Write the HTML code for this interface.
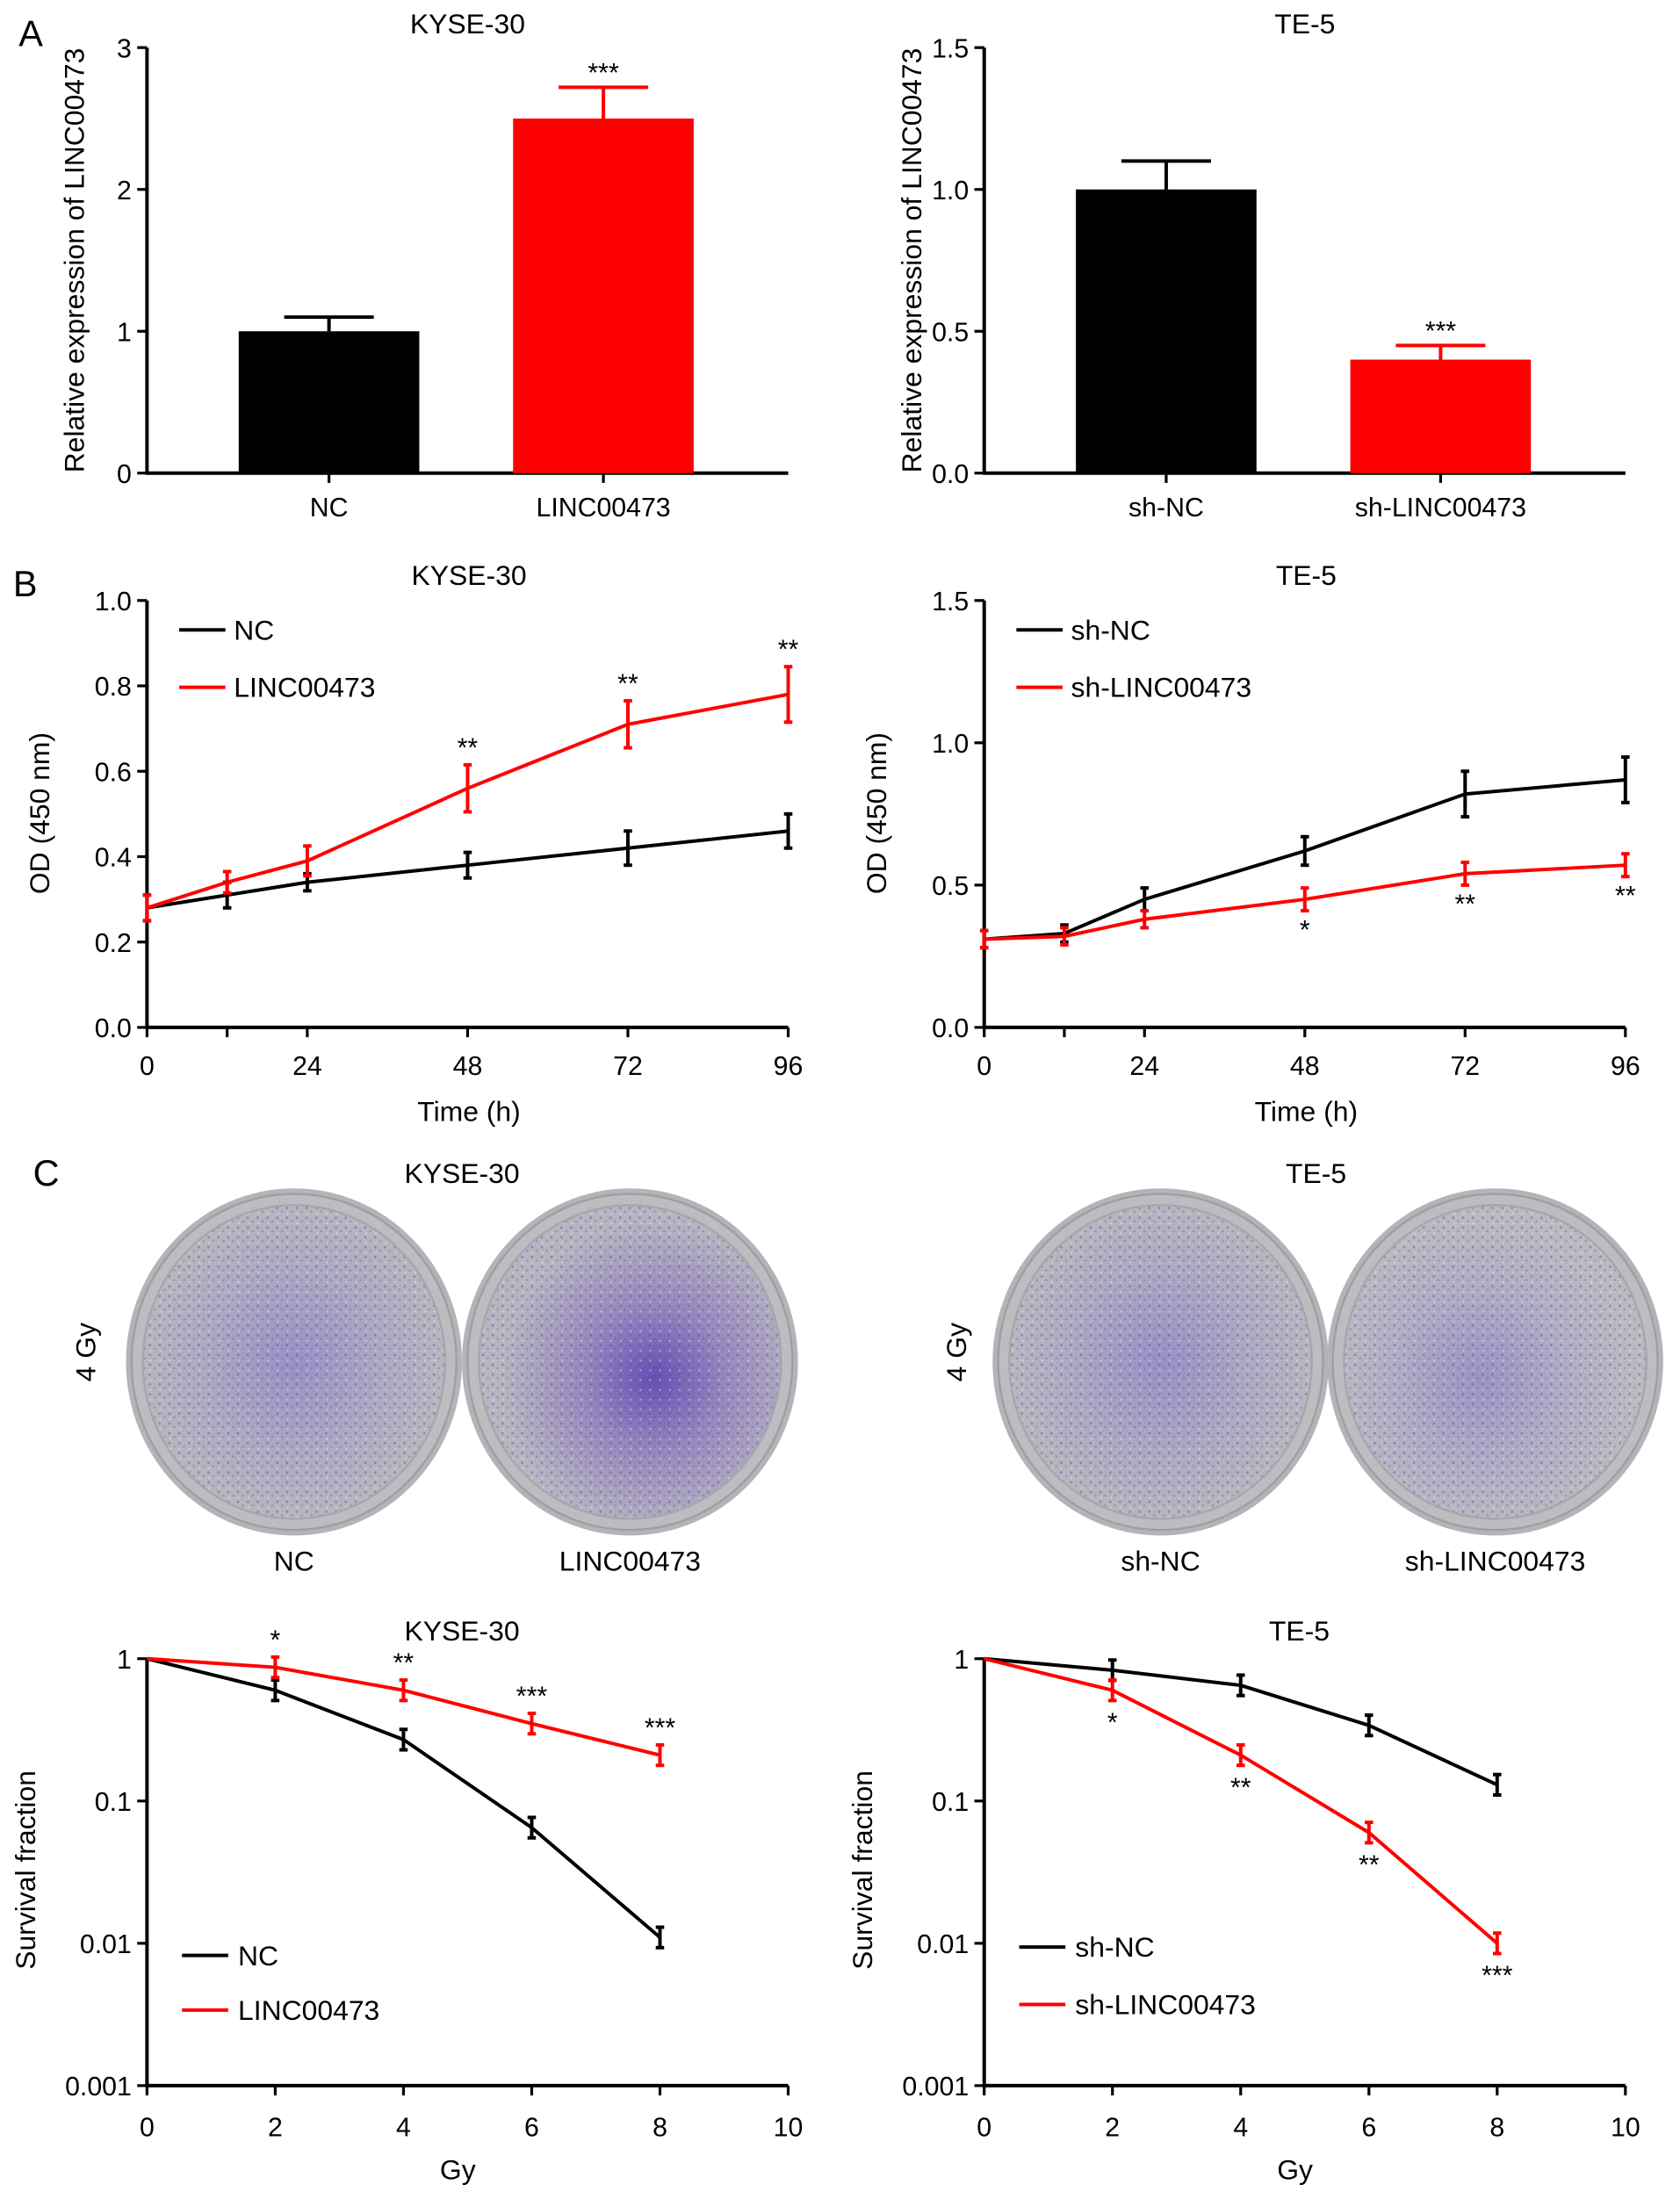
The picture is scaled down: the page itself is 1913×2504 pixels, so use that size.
<!DOCTYPE html>
<html><head><meta charset="utf-8"><style>
html,body{margin:0;padding:0;background:#fff}
svg{display:block;font-family:"Liberation Sans",Arial,sans-serif}
</style></head><body>
<svg id="fig" width="1913" height="2504" viewBox="0 0 1200 1571" preserveAspectRatio="none" xmlns="http://www.w3.org/2000/svg">
<defs>
<radialGradient id="dishA" cx="50%" cy="50%" r="50%">
<stop offset="0%" stop-color="#9890c4"/><stop offset="60%" stop-color="#adaac2"/><stop offset="100%" stop-color="#b8b7be"/></radialGradient>
<radialGradient id="dishB" cx="58%" cy="55%" r="50%">
<stop offset="0%" stop-color="#6450b4"/><stop offset="45%" stop-color="#9586bd"/><stop offset="100%" stop-color="#b7b5bf"/></radialGradient>
<radialGradient id="dishC" cx="45%" cy="55%" r="50%">
<stop offset="0%" stop-color="#9a94c4"/><stop offset="60%" stop-color="#b1afc4"/><stop offset="100%" stop-color="#bbbac0"/></radialGradient>
<pattern id="speck" width="7" height="7" patternUnits="userSpaceOnUse">
<circle cx="2" cy="2" r="0.9" fill="#5a4aa8" opacity="0.45"/><circle cx="5.5" cy="4.5" r="0.8" fill="#5a4aa8" opacity="0.35"/><circle cx="2.5" cy="6" r="0.7" fill="#eee" opacity="0.5"/></pattern>
</defs>
<g id="root"></g>
</svg>
<script>
// ---- Data: panel A ----
const barCatsL = ["NC","LINC00473"];
const barValsL = [1.0, 2.5];
const barErrL = [0.1, 0.22];
const barCatsR = ["sh-NC","sh-LINC00473"];
const barValsR = [1.0, 0.4];
const barErrR = [0.1, 0.05];
// ---- Data: panel B ----
const timeX = [0,12,24,48,72,96];
const odNC = [0.28,0.31,0.34,0.38,0.42,0.46];
const odNCerr = [0.03,0.03,0.02,0.03,0.04,0.04];
const odLINC = [0.28,0.34,0.39,0.56,0.71,0.78];
const odLINCerr = [0.03,0.025,0.035,0.055,0.055,0.065];
const odShNC = [0.31,0.33,0.45,0.62,0.82,0.87];
const odShNCerr = [0.03,0.03,0.04,0.05,0.08,0.08];
const odShLINC = [0.31,0.32,0.38,0.45,0.54,0.57];
const odShLINCerr = [0.03,0.03,0.03,0.04,0.04,0.04];
const timeTicks = [0,24,48,72,96];
// ---- Data: panel D ----
const doseX = [0,2,4,6,8];
const sfNC = [1,0.6,0.27,0.065,0.011];
const sfLINC = [1,0.87,0.6,0.35,0.21];
const sfShNC = [1,0.83,0.65,0.34,0.13];
const sfShLINC = [1,0.6,0.21,0.06,0.01];
const doseTicks = [0,2,4,6,8,10];
const logTicks = [1,0.1,0.01,0.001];
const logTickLabels = ["1","0.1","0.01","0.001"];

const NS="http://www.w3.org/2000/svg";
const root=document.getElementById('root');
const FT=19, FL=20;
function el(tag,attrs,parent,text){const e=document.createElementNS(NS,tag);for(const k in attrs)e.setAttribute(k,attrs[k]);if(text!==undefined)e.textContent=text;(parent||root).appendChild(e);return e;}
function txt(x,y,s,size,anchor,parent,rot){const t=el('text',{x:x,y:y,'font-size':size,'text-anchor':anchor||'middle',fill:'#000'},parent,s);if(rot)t.setAttribute('transform','rotate(-90 '+x+' '+y+')');return t;}

function linY(v,min,max,y0,y1){return y0-(v-min)/(max-min)*(y0-y1);}
function logY(v,y0,y1){return y0-(Math.log10(v)+3)/3*(y0-y1);}

function axesFrame(g,ax0,ay0,ax1,ay1){
  el('line',{x1:ax0,y1:ay0+1,x2:ax0,y2:ay1,stroke:'#000','stroke-width':2.5},g);
  el('line',{x1:ax0-1,y1:ay0,x2:ax1,y2:ay0,stroke:'#000','stroke-width':2.5},g);
}
function yTick(g,x,y,label){el('line',{x1:x-7,y1:y,x2:x,y2:y,stroke:'#000','stroke-width':2},g);txt(x-11,y+7,label,FT,'end',g);}
function xTick(g,x,y,label,ly){el('line',{x1:x,y1:y,x2:x,y2:y+7,stroke:'#000','stroke-width':2},g);if(label!==null)txt(x,ly,label,FT,'middle',g);}
function errBar(g,x,y1,y2,color,cap){el('line',{x1:x,y1:y1,x2:x,y2:y2,stroke:color,'stroke-width':2.5},g);el('line',{x1:x-cap,y1:y1,x2:x+cap,y2:y1,stroke:color,'stroke-width':2.5},g);el('line',{x1:x-cap,y1:y2,x2:x+cap,y2:y2,stroke:color,'stroke-width':2.5},g);}

// ---- Panel A ----
function barChart(name,ax0,title,cats,vals,errs,maxV,step,decimals,stars){
  const g=el('g',{},root);
  const ay0=338,ay1=34,ax1=ax0+458;
  const Y=v=>linY(v,0,maxV,ay0,ay1);
  txt(ax0+(ax1-ax0)/2,24,title,FL,'middle',g);
  axesFrame(g,ax0,ay0,ax1,ay1);
  for(let v=0;v<=maxV+1e-9;v+=step){yTick(g,ax0,Y(v),v.toFixed(decimals));}
  const ylab=txt(ax0-45,186,'Relative expression of LINC00473',FL,'middle',g,true);
  const centers=[130,326];
  cats.forEach((c,i)=>{
    const cx=ax0+centers[i];
    const color=i===0?'#000':'#ff0000';
    const b=el('rect',{x:cx-64.5,y:Y(vals[i]),width:129,height:ay0-Y(vals[i]),fill:color},g);
    
    el('line',{x1:cx,y1:Y(vals[i]),x2:cx,y2:Y(vals[i]+errs[i]),stroke:color,'stroke-width':2.5},g);
    el('line',{x1:cx-32,y1:Y(vals[i]+errs[i]),x2:cx+32,y2:Y(vals[i]+errs[i]),stroke:color,'stroke-width':2.5},g);
    xTick(g,cx,ay0,c,369);
    if(stars[i]){const s=txt(cx,Y(vals[i]+errs[i])-4,stars[i],FT,'middle',g);}
  });
}
barChart('bar-chart-kyse30',105,'KYSE-30',barCatsL,barValsL,barErrL,3,1,0,[null,'***']);
barChart('bar-chart-te5',703,'TE-5',barCatsR,barValsR,barErrR,1.5,0.5,1,[null,'***']);
txt(22,33,'A',26,'middle');

// ---- Panel B ----
function lineChart(name,ax0,title,maxV,series,legend,stars){
  const g=el('g',{},root);
  const ay0=734,ay1=429,ax1=ax0+458;
  const X=t=>ax0+t/96*(ax1-ax0);
  const Y=v=>linY(v,0,maxV,ay0,ay1);
  txt(ax0+230,418,title,FL,'middle',g);
  axesFrame(g,ax0,ay0,ax1,ay1);
  const step=maxV>1.2?0.5:0.2;
  for(let v=0;v<=maxV+1e-9;v+=step)yTick(g,ax0,Y(v),v.toFixed(1));
  timeTicks.forEach(t=>xTick(g,X(t),ay0,String(t),768));
  xTick(g,X(12),ay0,null);
  txt(ax0+230,801,'Time (h)',FL,'middle',g);
  txt(ax0-70,581,'OD (450 nm)',FL,'middle',g,true);
  series.forEach(s=>{
    const pl=el('polyline',{points:timeX.map((t,i)=>X(t)+','+Y(s.v[i])).join(' '),fill:'none',stroke:s.c,'stroke-width':2.5},g);
    
    timeX.forEach((t,i)=>errBar(g,X(t),Y(s.v[i]+s.e[i]),Y(s.v[i]-s.e[i]),s.c,3));
  });
  legend.forEach((l,i)=>{const ly=450+i*41;el('line',{x1:ax0+23,y1:ly,x2:ax0+56,y2:ly,stroke:l.c,'stroke-width':2.5},g);const t=txt(ax0+62,ly+7,l.n,FL,'start',g);});
  stars.forEach(s=>{const t=txt(X(s.t),s.above?Y(s.v)-6:Y(s.v)+20,s.s,FT,'middle',g);});
}
lineChart('line-chart-kyse30',105,'KYSE-30',1.0,
 [{n:'nc',v:odNC,e:odNCerr,c:'#000'},{n:'linc00473',v:odLINC,e:odLINCerr,c:'#ff0000'}],
 [{n:'NC',c:'#000'},{n:'LINC00473',c:'#ff0000'}],
 [{t:48,v:odLINC[3]+odLINCerr[3],s:'**',above:true},{t:72,v:odLINC[4]+odLINCerr[4],s:'**',above:true},{t:96,v:odLINC[5]+odLINCerr[5],s:'**',above:true}]);
lineChart('line-chart-te5',703,'TE-5',1.5,
 [{n:'sh-nc',v:odShNC,e:odShNCerr,c:'#000'},{n:'sh-linc00473',v:odShLINC,e:odShLINCerr,c:'#ff0000'}],
 [{n:'sh-NC',c:'#000'},{n:'sh-LINC00473',c:'#ff0000'}],
 [{t:48,v:odShLINC[3]-odShLINCerr[3],s:'*',above:false},{t:72,v:odShLINC[4]-odShLINCerr[4],s:'**',above:false},{t:96,v:odShLINC[5]-odShLINCerr[5],s:'**',above:false}]);
txt(18,426,'B',26,'middle');

// ---- Panel C (dishes) ----
txt(33,847,'C',26,'middle');
txt(330,845,'KYSE-30',FL,'middle');
txt(940,845,'TE-5',FL,'middle');
txt(68,966,'4 Gy',FL,'middle',null,true);
txt(690,966,'4 Gy',FL,'middle',null,true);
[[210,973,'NC','dishA'],[450,973,'LINC00473','dishB'],[829,973,'sh-NC','dishA'],[1068,973,'sh-LINC00473','dishC']].forEach(d=>{
  const g=el('g',{},root);
  el('ellipse',{cx:d[0],cy:d[1],rx:120,ry:124,fill:'#b4b4b8'},g);
  el('ellipse',{cx:d[0],cy:d[1],rx:116,ry:120,fill:'#bdbdc1',stroke:'#9e9ea4','stroke-width':1.5},g);
  el('ellipse',{cx:d[0],cy:d[1],rx:108,ry:112,fill:'url(#'+d[3]+')'},g);
  el('ellipse',{cx:d[0],cy:d[1],rx:108,ry:112,fill:'url(#speck)'},g);
  el('ellipse',{cx:d[0],cy:d[1],rx:108,ry:112,fill:'none',stroke:'#a6a6ac','stroke-width':1.5},g);
  txt(d[0],1122,d[2],FL,'middle',g);
});

// ---- Panel D ----
function logChart(name,ax0,title,series,legend,stars){
  const g=el('g',{},root);
  const ay0=1490,ay1=1185,ax1=ax0+458;
  const X=d=>ax0+d/10*(ax1-ax0);
  const Y=v=>logY(v,ay0,ay1);
  txt(ax0+225,1172,title,FL,'middle',g);
  axesFrame(g,ax0,ay0,ax1,ay1);
  logTicks.forEach((v,i)=>yTick(g,ax0,Y(v),logTickLabels[i]));
  doseTicks.forEach(d=>xTick(g,X(d),ay0,String(d),1526));
  txt(ax0+222,1557,'Gy',FL,'middle',g);
  txt(ax0-80,1336,'Survival fraction',FL,'middle',g,true);
  series.forEach(s=>{
    const pl=el('polyline',{points:doseX.map((d,i)=>X(d)+','+Y(s.v[i])).join(' '),fill:'none',stroke:s.c,'stroke-width':2.5,'stroke-linejoin':'round'},g);
    
    doseX.forEach((d,i)=>{if(i>0)errBar(g,X(d),Y(s.v[i]*1.18),Y(s.v[i]/1.18),s.c,3);});
  });
  legend.forEach((l,i)=>{const ly=l.y;el('line',{x1:ax0+25,y1:ly,x2:ax0+58,y2:ly,stroke:l.c,'stroke-width':2.5},g);txt(ax0+65,ly+7,l.n,FL,'start',g);});
  stars.forEach(s=>{const t=txt(X(s.d),s.above?Y(s.v*1.18)-6:Y(s.v/1.18)+22,s.s,FT,'middle',g);});
}
logChart('survival-chart-kyse30',105,'KYSE-30',
 [{n:'nc',v:sfNC,c:'#000'},{n:'linc00473',v:sfLINC,c:'#ff0000'}],
 [{n:'NC',c:'#000',y:1397},{n:'LINC00473',c:'#ff0000',y:1436}],
 [{d:2,v:sfLINC[1],s:'*',above:true},{d:4,v:sfLINC[2],s:'**',above:true},{d:6,v:sfLINC[3],s:'***',above:true},{d:8,v:sfLINC[4],s:'***',above:true}]);
logChart('survival-chart-te5',703,'TE-5',
 [{n:'sh-nc',v:sfShNC,c:'#000'},{n:'sh-linc00473',v:sfShLINC,c:'#ff0000'}],
 [{n:'sh-NC',c:'#000',y:1391},{n:'sh-LINC00473',c:'#ff0000',y:1432}],
 [{d:2,v:sfShLINC[1],s:'*',above:false},{d:4,v:sfShLINC[2],s:'**',above:false},{d:6,v:sfShLINC[3],s:'**',above:false},{d:8,v:sfShLINC[4],s:'***',above:false}]);
</script>
</body></html>
